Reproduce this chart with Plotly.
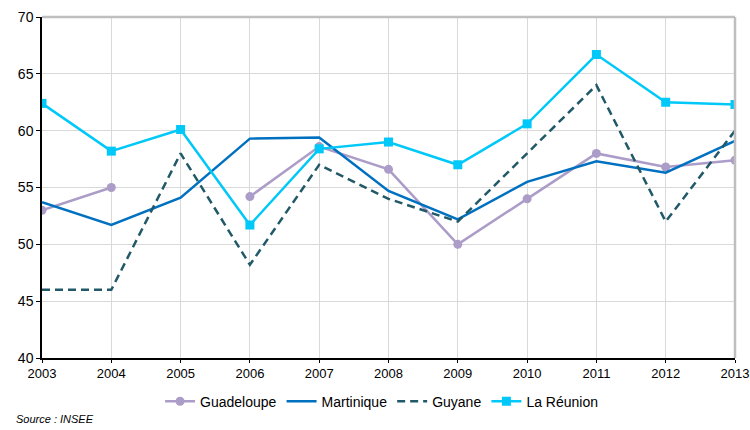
import plotly.graph_objects as go

# Data
years = list(range(2003, 2014))
guadeloupe = [53.0, 55.0, None, 54.2, 58.6, 56.6, 50.0, 54.0, 58.0, 56.8, 57.4]
martinique = [53.7, 51.7, 54.1, 59.3, 59.4, 54.7, 52.2, 55.5, 57.3, 56.3, 59.1]
guyane = [46.0, 46.0, 58.0, 48.2, 57.0, 54.0, 52.0, 58.0, 64.0, 52.0, 60.0]
reunion = [62.4, 58.2, 60.1, 51.7, 58.4, 59.0, 57.0, 60.6, 66.7, 62.5, 62.3]

font_name = "Liberation Sans, Arial, sans-serif"

fig = go.Figure()

fig.add_trace(go.Scatter(
    x=years, y=guadeloupe, name='Guadeloupe', mode='lines+markers',
    line=dict(color='#AC9CC8', width=2.5),
    marker=dict(symbol='circle', size=9, color='#AC9CC8'),
    connectgaps=False,
))
fig.add_trace(go.Scatter(
    x=years, y=martinique, name='Martinique', mode='lines',
    line=dict(color='#0070C0', width=2.5),
))
fig.add_trace(go.Scatter(
    x=years, y=guyane, name='Guyane', mode='lines',
    line=dict(color='#215968', width=2.5, dash='8px,5px'),
))
fig.add_trace(go.Scatter(
    x=years, y=reunion, name='La Réunion', mode='lines+markers',
    line=dict(color='#00C8F8', width=2.5),
    marker=dict(symbol='square', size=9, color='#00C8F8'),
))

fig.update_layout(
    width=750, height=430,
    margin=dict(l=42, r=15, t=17, b=68),
    plot_bgcolor='white', paper_bgcolor='white',
    font=dict(family=font_name, size=14, color='black'),
    showlegend=True,
    legend=dict(orientation='h', x=0.49, xanchor='center', y=-0.128, yanchor='middle',
                font=dict(size=14), itemwidth=30, traceorder='normal'),
    xaxis=dict(
        range=[2003, 2013], tickmode='array', tickvals=years,
        tickfont=dict(size=13),
        showgrid=True, gridcolor='#D9D9D9', gridwidth=1,
        showline=True, linecolor='black', linewidth=1.5,
        ticks='outside', ticklen=3, tickcolor='black',
        zeroline=False, automargin=False, ticklabeloverflow='allow',
    ),
    yaxis=dict(
        range=[40, 70], dtick=5,
        showgrid=True, gridcolor='#D9D9D9', gridwidth=1,
        showline=True, linecolor='black', linewidth=1.5,
        ticks='outside', ticklen=4, tickcolor='black',
        zeroline=False, automargin=False,
    ),
    annotations=[dict(
        text='<i>Source : INSEE</i>', xref='paper', yref='paper',
        x=-0.04, y=-0.18, xanchor='left', yanchor='middle', showarrow=False,
        font=dict(size=11, family=font_name),
    )],
    shapes=[
        dict(type='line', xref='paper', yref='paper', x0=0, x1=1, y0=1, y1=1,
             line=dict(color='#BFBFBF', width=2.5)),
        dict(type='line', xref='paper', yref='paper', x0=1, x1=1, y0=0, y1=1,
             line=dict(color='#BFBFBF', width=2.5)),
    ],
)

# drop the default 8px page margin so the figure fills the window, no modebar
fig.write_html("out.html", config={'displayModeBar': False},
               post_script="document.body.style.margin='0';document.body.style.overflow='hidden';")
